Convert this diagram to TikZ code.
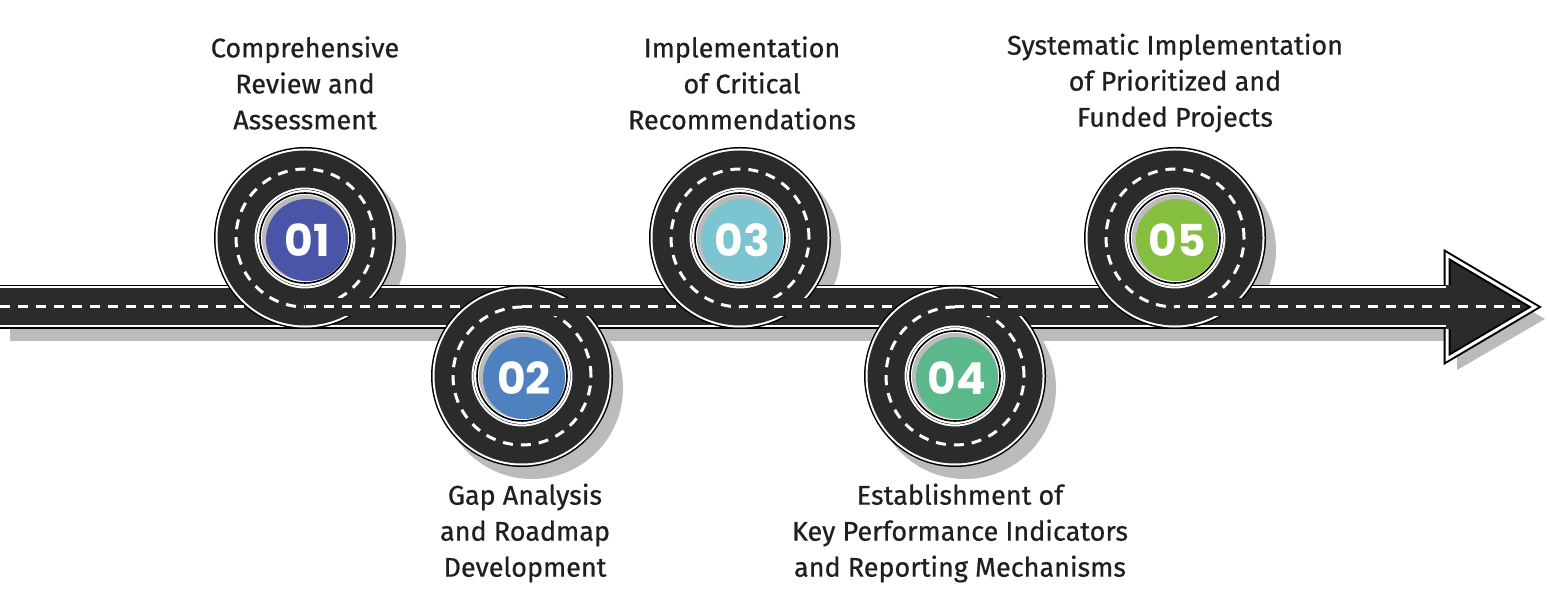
\documentclass[tikz,border=0pt]{standalone}
\usepackage{fontspec}
\setmainfont{Fira Sans}
\newfontfamily\numfont{Poppins}
\definecolor{road}{HTML}{2B2B2B}
\definecolor{shad}{HTML}{BBBBBB}
\definecolor{cA}{HTML}{4A55A8}
\definecolor{cB}{HTML}{4F80C0}
\definecolor{cC}{HTML}{7CC5D0}
\definecolor{cD}{HTML}{5AB88A}
\definecolor{cE}{HTML}{86BF3F}
\begin{document}
\begin{tikzpicture}[x=0.5pt,y=0.5pt,
  lbl/.style={align=center,font=\fontsize{13.5}{18}\selectfont\addfontfeatures{FakeBold=0.6},text=black!88},
  badge/.style={circle,minimum size=41pt,inner sep=0pt,text=white,font=\numfont\bfseries\fontsize{22}{22}\selectfont},
  dsh/.style={white,line width=1.5pt,dash pattern=on 5pt off 4pt}]
\useasboundingbox (0,0) rectangle (1550,610);
\fill[white] (0,0) rectangle (1550,610);
\def\roadpath{(0,303) -- (305,303) arc[start angle=-90,end angle=270,radius=69] -- (522,303) arc[start angle=90,end angle=-270,radius=69] -- (740,303) arc[start angle=-90,end angle=270,radius=69] -- (955,303) arc[start angle=90,end angle=-270,radius=69] -- (1175,303) arc[start angle=-90,end angle=270,radius=69] -- (1450,303)}
% shadow
\begin{scope}[shift={(10,-12)}]
\draw[shad,line width=22pt] \roadpath;
\fill[shad] (1447,355) -- (1535,303) -- (1447,252) -- cycle;
\end{scope}
% straight road
\coordinate (s0) at (0,303);
\coordinate (s1) at (1450,303);
\draw[black,line width=22pt] (s0) -- (s1);
\draw[white,line width=20.5pt] (s0) -- (s1);
\draw[road,line width=18.5pt] (s0) -- (s1);
\draw[dsh] (s0) -- (1520,303);
% loops
\foreach \x/\y in {305/372,522/234,740/372,955/234,1175/372}{
  \draw[black,line width=22pt] (\x,\y) circle[radius=69];
  \draw[white,line width=20.5pt] (\x,\y) circle[radius=69];
  \draw[road,line width=18.5pt] (\x,\y) circle[radius=69];
  \draw[dsh] (\x,\y) circle[radius=69];
  \fill[road] (\x,293.75) rectangle (\x+85,312.25);
  \draw[dsh,dash phase=\x*0.5pt] (\x,303) -- (\x+85,303);
}
% arrow head
\fill[road] (1446,355) -- (1535,303) -- (1446,251) -- cycle;
\draw[black,line width=3.5pt,line join=miter] (1447,325) -- (1447,355) -- (1535,303) -- (1447,251) -- (1447,281);
\draw[white,line width=1.5pt,line join=miter] (1447,325) -- (1447,355) -- (1535,303) -- (1447,251) -- (1447,281);
\draw[dsh,dash phase=723pt] (1446,303) -- (1520,303);
% badges
\foreach \n/\x/\y/\c/\t in {a/305/372/cA/01,b/522/234/cB/02,c/740/372/cC/03,d/955/234/cD/04,e/1175/372/cE/05}{
  \fill[white] (\x,\y) circle[radius=48];
  \draw[black,line width=0.8pt] (\x,\y) circle[radius=45];
  \fill[shad] (\x,\y) circle[radius=43];
  \node[badge,fill=\c] (\n) at (\x+2,\y-2) {\t};
}
% labels
\node[lbl] (la) at (305,527) {Comprehensive\\Review and\\Assessment};
\node[lbl] (lb) at (525,77) {Gap Analysis\\and Roadmap\\Development};
\node[lbl] (lc) at (742,527) {Implementation\\of Critical\\Recommendations};
\node[lbl] (ld) at (960,77) {Establishment of\\Key Performance Indicators\\and Reporting Mechanisms};
\node[lbl] (le) at (1175,527) {Systematic Implementation\\of Prioritized and\\Funded Projects};
\end{tikzpicture}
\end{document}
